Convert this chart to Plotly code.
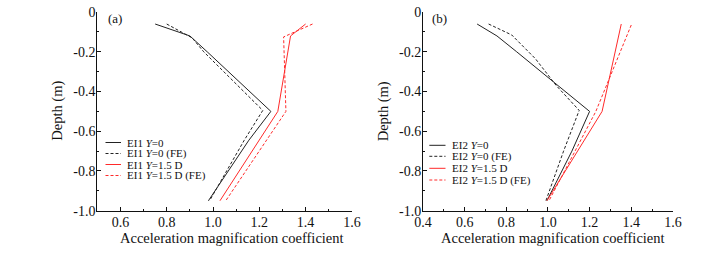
import plotly.graph_objects as go

# ---------------- data ----------------
# Panel (a): EI1
a_y0_x = [0.75, 0.90, 0.975, 1.25, 1.155, 0.98]
a_y0_d = [-0.06, -0.12, -0.20, -0.50, -0.645, -0.95]
a_y0fe_x = [0.80, 0.91, 0.96, 1.215, 1.135, 0.985]
a_y0fe_d = [-0.06, -0.13, -0.20, -0.495, -0.645, -0.95]
a_y15_x = [1.40, 1.335, 1.28, 1.03]
a_y15_d = [-0.06, -0.12, -0.50, -0.95]
a_y15fe_x = [1.43, 1.305, 1.315, 1.055]
a_y15fe_d = [-0.06, -0.125, -0.50, -0.95]

# Panel (b): EI2
b_y0_x = [0.66, 0.755, 0.85, 1.13, 1.20, 1.115, 0.995]
b_y0_d = [-0.06, -0.12, -0.20, -0.44, -0.50, -0.70, -0.95]
b_y0fe_x = [0.715, 0.826, 0.94, 1.04, 1.15, 1.075, 0.99]
b_y0fe_d = [-0.06, -0.115, -0.235, -0.37, -0.495, -0.70, -0.95]
b_y15_x = [1.352, 1.315, 1.26, 0.995]
b_y15_d = [-0.06, -0.24, -0.50, -0.95]
b_y15fe_x = [1.40, 1.31, 1.23, 1.005]
b_y15fe_d = [-0.065, -0.30, -0.50, -0.95]

a_legend = ["EI1 <i>Y</i>=0", "EI1 <i>Y</i>=0 (FE)", "EI1 <i>Y</i>=1.5 D", "EI1 <i>Y</i>=1.5 D (FE)"]
b_legend = ["EI2 <i>Y</i>=0", "EI2 <i>Y</i>=0 (FE)", "EI2 <i>Y</i>=1.5 D", "EI2 <i>Y</i>=1.5 D (FE)"]

a_xticks = [0.6, 0.8, 1.0, 1.2, 1.4, 1.6]
b_xticks = [0.4, 0.6, 0.8, 1.0, 1.2, 1.4, 1.6]
y_ticks = [0, -0.2, -0.4, -0.6, -0.8, -1.0]
y_ticktext = ["0", "-0.2", "-0.4", "-0.6", "-0.8", "-1.0"]

# ---------------- styling ----------------
FONT = "Liberation Serif"
BLACK = "#222222"
RED = "#ff2a2a"
styles = [
    dict(color=BLACK, width=1, dash="solid"),
    dict(color=BLACK, width=1, dash="3px,2px"),
    dict(color=RED, width=1, dash="solid"),
    dict(color=RED, width=1, dash="3px,2px"),
]

W, H = 707, 253


def px_x(v):
    return v / W


def px_y(v):
    return (H - v) / H


fig = go.Figure()

a_series = [(a_y0_x, a_y0_d), (a_y0fe_x, a_y0fe_d), (a_y15_x, a_y15_d), (a_y15fe_x, a_y15fe_d)]
b_series = [(b_y0_x, b_y0_d), (b_y0fe_x, b_y0fe_d), (b_y15_x, b_y15_d), (b_y15fe_x, b_y15fe_d)]

for (xs, ds), st, name in zip(a_series, styles, a_legend):
    fig.add_trace(go.Scatter(x=xs, y=ds, mode="lines", line=st, name=name,
                             xaxis="x", yaxis="y", showlegend=False))
for (xs, ds), st, name in zip(b_series, styles, b_legend):
    fig.add_trace(go.Scatter(x=xs, y=ds, mode="lines", line=st, name=name,
                             xaxis="x2", yaxis="y2", showlegend=False))

ydom = [px_y(210.7), px_y(12)]
common_axis = dict(
    showgrid=False, zeroline=False, showline=True, linecolor="#111", linewidth=1,
    ticks="inside", ticklen=4, tickcolor="#111", tickwidth=1, automargin=False,
    tickfont=dict(family=FONT, size=14, color="#111"),
)
minor_x = dict(tickmode="linear", dtick=0.1, ticks="inside", ticklen=2, tickcolor="#111")
minor_y = dict(tickmode="linear", tick0=0, dtick=0.1, ticks="inside", ticklen=2, tickcolor="#111")

fig.update_layout(
    template="none",
    width=W, height=H,
    margin=dict(l=0, r=0, t=0, b=0, pad=0, autoexpand=False),
    paper_bgcolor="white", plot_bgcolor="white",
    showlegend=False,
    xaxis=dict(common_axis, domain=[px_x(97.3), px_x(352)], range=[0.5, 1.6005],
               tickmode="array", tickvals=a_xticks, ticktext=[f"{v:.1f}" for v in a_xticks],
               minor=dict(minor_x, tick0=0.5), anchor="y", ticklabelstandoff=-2),
    yaxis=dict(common_axis, domain=ydom, range=[-1.0, 0.0005],
               tickmode="array", tickvals=y_ticks, ticktext=y_ticktext,
               minor=minor_y, anchor="x", ticklabelstandoff=-2),
    xaxis2=dict(common_axis, domain=[px_x(423), px_x(673)], range=[0.4, 1.6005],
                tickmode="array", tickvals=b_xticks, ticktext=[f"{v:.1f}" for v in b_xticks],
                minor=dict(minor_x, tick0=0.4), anchor="y2", ticklabelstandoff=-2),
    yaxis2=dict(common_axis, domain=ydom, range=[-1.0, 0.0005],
                tickmode="array", tickvals=y_ticks, ticktext=y_ticktext,
                minor=minor_y, anchor="x2", ticklabelstandoff=-2),
)

annotations = []
shapes = []
title_font = dict(family=FONT, size=14.5, color="#111")

# axis titles and panel labels
for xc, yc, txt, ang in [
    (232.5, 237.5, "Acceleration magnification coefficient", 0),
    (552.5, 237.5, "Acceleration magnification coefficient", 0),
    (56.7, 111, "Depth (m)", -90),
    (383.3, 111, "Depth (m)", -90),
]:
    annotations.append(dict(x=px_x(xc), y=px_y(yc), xref="paper", yref="paper",
                            text=txt, showarrow=False, textangle=ang,
                            xanchor="center", yanchor="middle", font=title_font))
for xc, txt in [(115, "(a)"), (440, "(b)")]:
    annotations.append(dict(x=px_x(xc), y=px_y(18.3), xref="paper", yref="paper",
                            text=txt, showarrow=False, xanchor="center", yanchor="middle",
                            font=dict(family=FONT, size=13, color="#111")))

# custom legends
leg_font = dict(family=FONT, size=11, color="#111")
for names, x0, x1, xt, rows in [
    (a_legend, 105.5, 121, 124.5, [142.5, 153.5, 164.5, 175.5]),
    (b_legend, 429.3, 445.5, 450, [145.3, 156.3, 168.3, 180]),
]:
    for name, st, yr in zip(names, styles, rows):
        shapes.append(dict(type="line", xref="paper", yref="paper",
                           x0=px_x(x0), x1=px_x(x1), y0=px_y(yr), y1=px_y(yr),
                           line=st))
        annotations.append(dict(x=px_x(xt), y=px_y(yr), xref="paper", yref="paper",
                                text=name, showarrow=False, xanchor="left", yanchor="middle",
                                font=leg_font))

fig.update_layout(annotations=annotations, shapes=shapes)

fig.write_html("out.html", config={"displayModeBar": False},
               post_script="document.body.style.margin='0px';")
